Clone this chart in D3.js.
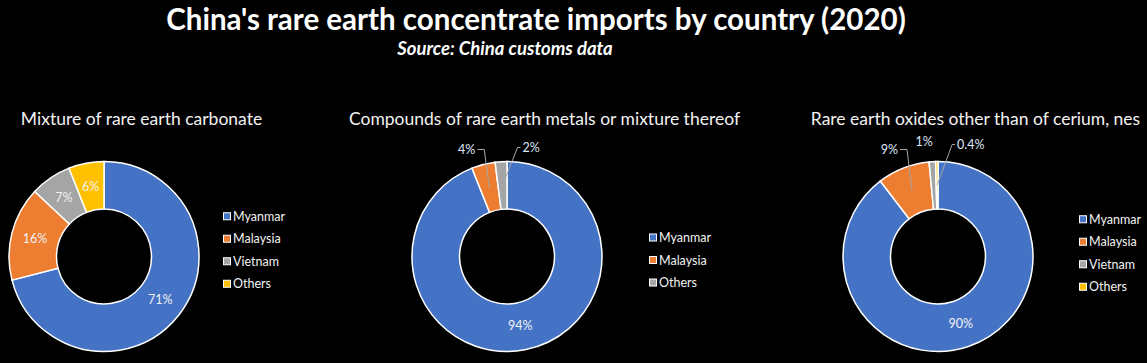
<!DOCTYPE html>
<html>
<head>
<meta charset="utf-8">
<script src="https://cdn.jsdelivr.net/npm/d3@7"></script>
<style>
  body { margin: 0; background: #000; }
  svg { display: block; }
</style>
</head>
<body>
<script>
// ---- data
const chartTitles = [
  "Mixture of rare earth carbonate",
  "Compounds of rare earth metals or mixture thereof",
  "Rare earth oxides other than of cerium, nes"
];
const countries1 = ["Myanmar", "Malaysia", "Vietnam", "Others"];
const shares1 = [71, 16, 7, 6];
const countries2 = ["Myanmar", "Malaysia", "Others"];
const shares2 = [94, 4, 2];
const countries3 = ["Myanmar", "Malaysia", "Vietnam", "Others"];
const shares3 = [89.6, 8.9, 1.1, 0.4];

// Excel palette, used in series order
const palette = ["#4472C4", "#ED7D31", "#A5A5A5", "#FFC000"];

// ---- layout
var width = 1147, height = 363;
var font = "Lato, 'Open Sans', sans-serif";
var text_col = "#f2f2f2";
var outside_col = "#dee8f6";
var leader_col = "#a6a6a6";

var svg = d3.select("body").append("svg")
  .attr("width", width)
  .attr("height", height)
  .style("background", "#000");

// Title
svg.append("text")
  .text("China's rare earth concentrate imports by country (2020)")
  .attr("x", 536).attr("y", 30)
  .attr("text-anchor", "middle")
  .style("font-family", font)
  .style("font-weight", "bold")
  .style("font-size", "29.5px")
  .style("fill", "#fff");

// Sub-title
svg.append("text")
  .text("Source: China customs data")
  .attr("x", 505).attr("y", 55)
  .attr("text-anchor", "middle")
  .style("font-family", font)
  .style("font-weight", "bold")
  .style("font-style", "italic")
  .style("font-size", "18.5px")
  .style("fill", "#fff");

// outside: labels of all slices but the first go outside with leader lines
var panels = [
  { title: chartTitles[0], names: countries1, values: shares1, cx: 104, legendX: 227, legendMid: 250, outside: false },
  { title: chartTitles[1], names: countries2, values: shares2, cx: 507, legendX: 653, legendMid: 260, outside: true },
  { title: chartTitles[2], names: countries3, values: shares3, cx: 938, legendX: 1083, legendMid: 253, outside: true }
];

var cy = 256.5, outerR = 95, innerR = 47.5;

var pie = d3.pie().sort(null).value(d => d.value);
var arc = d3.arc().innerRadius(innerR).outerRadius(outerR);

function fmt(v) {
  return v < 1 ? d3.format(".1f")(v) + "%" : Math.round(v) + "%";
}

panels.forEach(function (p, pi) {
  var rows = p.names.map((n, i) => ({ name: n, value: p.values[i], color: palette[i] }));
  var g = svg.append("g").attr("transform", "translate(" + p.cx + "," + cy + ")");

  // panel title
  svg.append("text")
    .text(p.title)
    .attr("x", p.cx + 37.5).attr("y", 125)
    .attr("text-anchor", "middle")
    .style("font-family", font)
    .style("font-size", "17.5px")
    .style("fill", text_col);

  var arcs = pie(rows);

  g.selectAll("path.slice")
    .data(arcs)
    .enter().append("path")
    .attr("class", "slice")
    .attr("d", arc)
    .style("fill", d => d.data.color)
    .style("stroke", "#fff")
    .style("stroke-width", 1.5);

  // data labels
  var lastIdx = arcs.length - 1;
  arcs.forEach(function (d, i) {
    var c = arc.centroid(d);
    var lbl = g.append("text")
      .text(fmt(d.data.value))
      .style("font-family", font)
      .style("font-size", "12.5px")
      .style("fill", text_col);

    if (!p.outside || i == 0) {
      lbl.attr("x", c[0]).attr("y", c[1] + 4).attr("text-anchor", "middle");
      return;
    }
    lbl.style("fill", outside_col);
    var mid = (d.startAngle + d.endAngle) / 2;
    // with three outside labels, the middle one sits above with no leader
    if (lastIdx == 3 && i == 2) {
      var r = outerR + 20;
      lbl.attr("x", Math.sin(mid) * r - 7).attr("y", -Math.cos(mid) * r + 4)
        .attr("text-anchor", "middle");
      return;
    }
    var right = (i == lastIdx);
    var ly = right ? (lastIdx == 3 ? -outerR - 17 : -outerR - 14) : -outerR - 12;
    var ex = c[0] + (right ? 15 : -5);
    var tx = ex + (right ? 3 : -7);
    g.append("path")
      .attr("d", "M" + c[0] + "," + c[1] + "L" + ex + "," + ly + "L" + tx + "," + ly)
      .style("fill", "none")
      .style("stroke", leader_col)
      .style("stroke-width", 1);
    lbl.attr("x", tx + (right ? 2 : -2)).attr("y", ly + 4)
      .attr("text-anchor", right ? "start" : "end");
  });

  // legend
  var step = 22.5;
  var top = p.legendMid - (rows.length - 1) * step / 2;
  var leg = svg.append("g").selectAll("g")
    .data(rows)
    .enter().append("g")
    .attr("transform", (d, i) => "translate(" + p.legendX + "," + (top + i * step) + ")");
  leg.append("rect")
    .attr("x", -3.5).attr("y", -3.5)
    .attr("width", 7).attr("height", 7)
    .style("fill", d => d.color)
    .style("stroke", "#fff")
    .style("stroke-width", 1);
  leg.append("text")
    .text(d => d.name)
    .attr("x", 6).attr("y", 4.5)
    .style("font-family", font)
    .style("font-size", "12.5px")
    .style("fill", text_col);
});
</script>
</body>
</html>
